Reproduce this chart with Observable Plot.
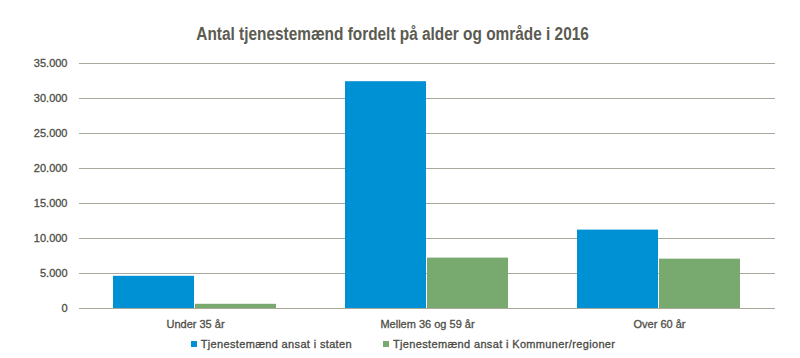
<!DOCTYPE html>
<html><head><meta charset="utf-8">
<script src="https://cdn.jsdelivr.net/npm/d3@7"></script>
<script src="https://cdn.jsdelivr.net/npm/@observablehq/plot@0.6"></script>
<style>
body{margin:0;background:#fff;width:800px;height:358px;overflow:hidden;font-family:"Liberation Sans Narrow","Arial Narrow","Liberation Sans",sans-serif;}
#title{height:50px;box-sizing:border-box;padding-top:24px;text-align:center;font-size:18px;font-weight:bold;color:#5b5b52;line-height:20px;width:786px;}
#title span{display:inline-block;transform:scaleX(0.855);white-space:nowrap;}
#chart svg{display:block;}
#chart text{stroke:#4e4e46;stroke-width:0.3px;}
#legend{height:23px;display:flex;justify-content:center;align-items:center;font-size:11px;letter-spacing:0.35px;color:#4a4a44;width:806px;gap:31px;margin-top:-3px;-webkit-text-stroke:0.3px #4a4a44;}
#legend span.sw{display:inline-block;width:6px;height:6px;margin-right:4px;vertical-align:middle;position:relative;top:-1px;}
</style></head>
<body>
<div id="title"><span>Antal tjenestemænd fordelt på alder og område i 2016</span></div>
<div id="chart"></div>
<div id="legend"></div>
<script>
const categories = ["Under 35 år", "Mellem 36 og 59 år", "Over 60 år"];
const seriesNames = ["Tjenestemænd ansat i staten", "Tjenestemænd ansat i Kommuner/regioner"];
const stateValues = [4600, 32400, 11200];
const municipalValues = [600, 7200, 7050];
const yTicks = [0, 5000, 10000, 15000, 20000, 25000, 30000, 35000];
const seriesColors = ["#0090d4", "#78aa70"];

const data = [];
categories.forEach((c, i) => {
  data.push({category: c, series: seriesNames[0], value: stateValues[i]});
  data.push({category: c, series: seriesNames[1], value: municipalValues[i]});
});

const fmt = d3.formatLocale({decimal: ",", thousands: ".", grouping: [3], currency: ["", " kr."]}).format(",d");
const gridColor = "#a9a99b";

const chart = Plot.plot({
  width: 800,
  height: 285,
  marginTop: 13,
  marginBottom: 27,
  marginLeft: 78,
  marginRight: 25,
  style: {fontFamily: '"Liberation Sans Narrow","Arial Narrow","Liberation Sans",sans-serif', fontSize: "11px", color: "#4e4e46"},
  fx: {domain: categories, padding: 0, label: null, axis: "bottom", tickSize: 0, tickPadding: 12},
  x: {domain: seriesNames, paddingInner: 0.012, paddingOuter: 0.41, axis: null},
  y: {domain: [0, 35000], ticks: yTicks, tickFormat: fmt, tickSize: 0, tickPadding: 12, label: null},
  color: {domain: seriesNames, range: seriesColors},
  marks: [
    Plot.gridY(yTicks, {stroke: gridColor, strokeOpacity: 1, strokeWidth: 1}),
    Plot.barY(data, {fx: "category", x: "series", y: "value", fill: "series"}),
    Plot.ruleY([0], {stroke: gridColor, strokeWidth: 1})
  ]
});
document.getElementById("chart").appendChild(chart);

const legend = document.getElementById("legend");
seriesNames.forEach((s, i) => {
  const item = document.createElement("div");
  item.innerHTML = `<span class="sw" style="background:${seriesColors[i]}"></span>${s}`;
  legend.appendChild(item);
});
</script>
</body></html>
